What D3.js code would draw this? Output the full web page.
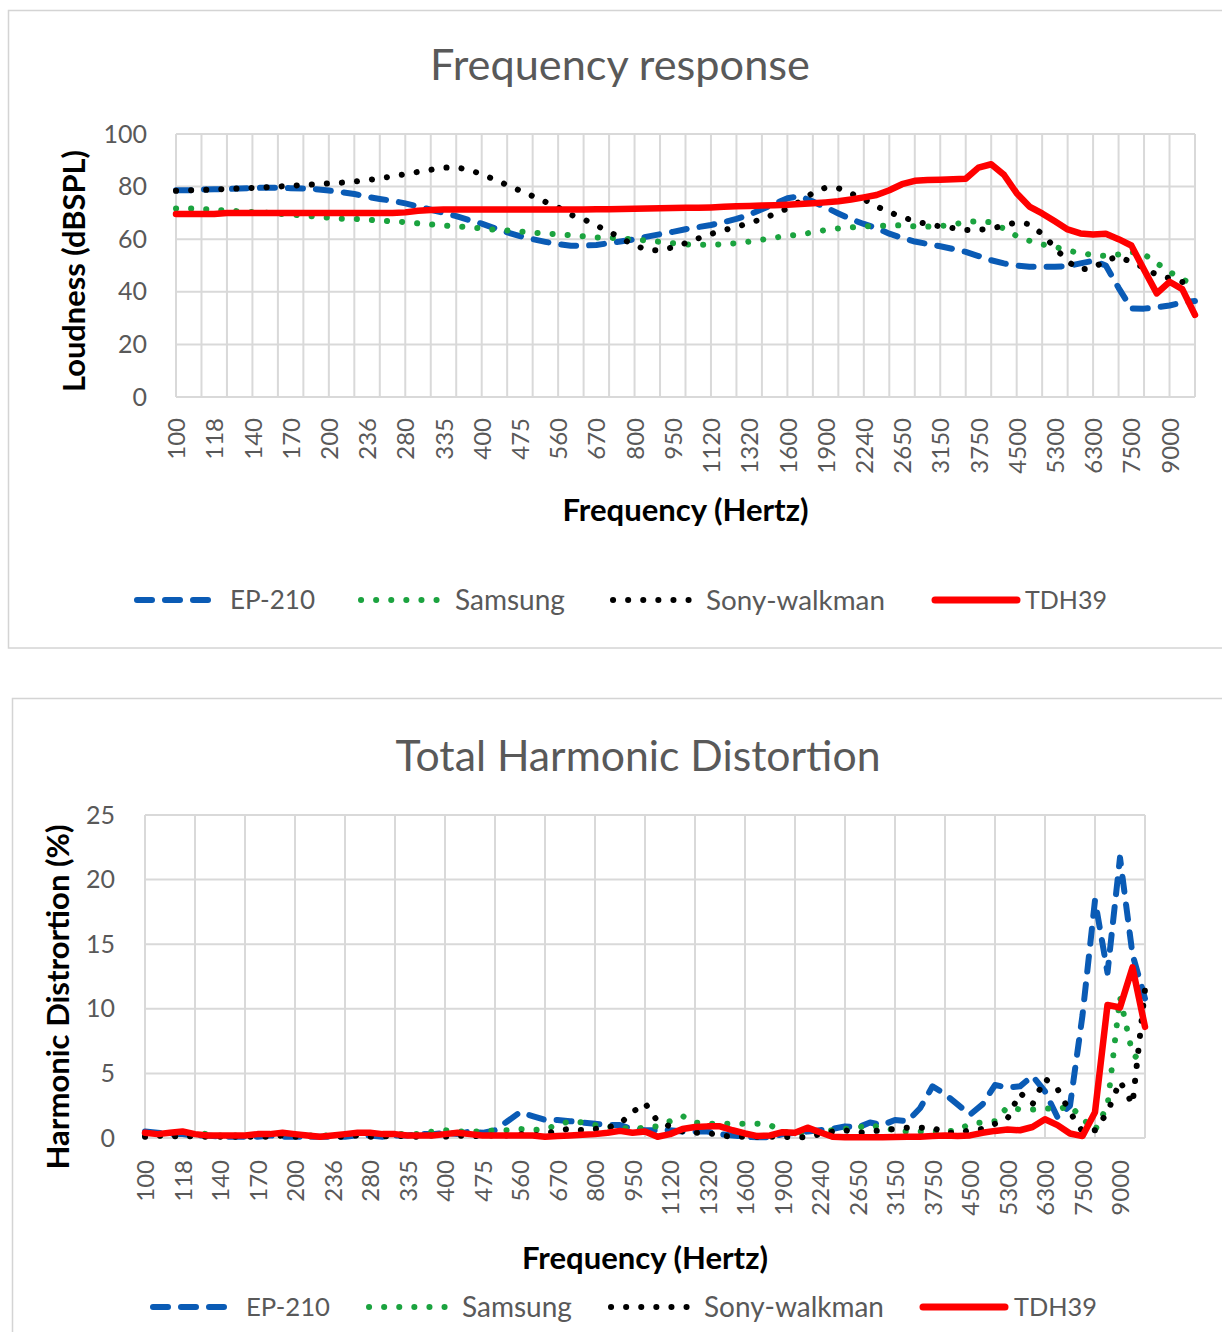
<!DOCTYPE html>
<html><head><meta charset="utf-8">
<script src="https://cdn.jsdelivr.net/npm/d3@7"></script>
<style>body{margin:0;background:#fff}svg{display:block}</style>
</head><body>
<svg id="c" width="1222" height="1332"></svg>
<script>
// ---------------- DATA ----------------
const freqLabels = ["100","106","112","118","125","132","140","150","160","170","180","190","200","212","224","236","250","265","280","300","315","335","355","375","400","425","450","475","500","530","560","600","630","670","710","750","800","850","900","950","1000","1060","1120","1180","1250","1320","1400","1500","1600","1700","1800","1900","2000","2120","2240","2360","2500","2650","2800","3000","3150","3350","3550","3750","4000","4250","4500","4750","5000","5300","5600","6000","6300","6700","7100","7500","8000","8500","9000","9500","10000"];
const xTickLabels = ["100","118","140","170","200","236","280","335","400","475","560","670","800","950","1120","1320","1600","1900","2240","2650","3150","3750","4500","5300","6300","7500","9000"];
const seriesNames = ["EP-210","Samsung","Sony-walkman","TDH39"];

const loudnessTicks = [0,20,40,60,80,100];
const thdTicks = [0,5,10,15,20,25];

// Frequency response (dBSPL)
const frEP210 = [78.6,78.6,78.9,79.0,79.1,79.3,79.4,79.6,79.6,79.4,
79.3,79.0,78.5,77.9,77.2,76.1,75.3,74.6,73.6,72.5,
71.2,70.0,68.8,67.3,65.9,64.2,62.6,61.2,60.0,59.0,
58.1,57.5,57.6,57.8,58.5,59.2,60.0,61.0,61.9,62.8,
63.8,64.6,65.4,66.5,67.7,69.3,71.4,73.5,75.6,76.3,
74.3,72.1,69.8,67.6,65.8,64.2,62.1,60.5,59.1,58.2,
57.3,56.3,55.2,53.6,52.0,50.8,50.0,49.5,49.5,49.5,
49.8,50.8,51.8,50.0,41.5,33.7,33.6,34.1,34.8,35.9,36.5];
const frSamsung = [71.7,71.7,71.5,71.2,70.9,70.6,70.3,70.1,69.7,69.3,
69.0,68.6,68.2,67.8,67.7,67.4,67.1,66.8,66.5,66.0,
65.6,65.2,64.9,64.5,64.1,63.6,63.3,62.9,62.5,62.1,
61.9,61.5,61.1,60.7,60.6,60.2,59.9,59.5,59.0,58.5,
58.0,57.9,57.9,58.1,58.5,59.1,59.8,60.6,61.3,61.8,
62.6,63.5,64.1,64.5,64.9,65.0,65.2,65.3,64.9,64.8,
65.0,65.6,66.5,66.9,66.4,64.0,61.2,59.4,58.0,57.1,
55.7,54.7,54.0,53.6,54.2,55.1,54.3,50.9,47.6,44.8,42.5];
const frSony = [78.4,78.6,78.7,78.9,79.1,79.3,79.5,79.7,80.0,80.3,
80.6,80.9,81.2,81.5,81.9,82.5,83.1,83.9,84.7,85.6,
86.4,87.2,87.3,86.4,84.7,82.7,80.6,78.5,76.4,74.2,
72.1,69.3,67.6,65.2,62.9,60.2,57.7,55.9,55.8,56.9,
58.5,60.3,62.0,63.4,64.7,66.1,67.7,69.6,71.7,74.4,
77.6,79.6,79.4,77.4,75.2,72.5,70.3,68.4,66.9,65.7,
64.9,64.2,63.5,63.6,64.0,65.2,66.4,65.7,62.0,56.8,
51.5,48.5,49.0,52.0,53.4,51.3,49.2,46.4,45.2,43.7,43.0];
const frTDH39 = [69.6,69.6,69.6,69.6,70.0,70.0,70.0,70.0,70.0,70.0,
70.0,70.0,70.0,70.0,70.0,70.0,70.0,70.0,70.2,70.8,
71.1,71.3,71.3,71.3,71.3,71.3,71.3,71.3,71.3,71.3,
71.3,71.3,71.3,71.4,71.4,71.5,71.6,71.7,71.8,71.9,
72.0,72.0,72.1,72.3,72.5,72.6,72.8,72.9,73.1,73.4,
73.7,74.0,74.4,75.1,75.9,76.8,78.6,80.9,82.2,82.5,
82.6,82.8,83.0,87.2,88.5,84.5,77.5,72.4,69.8,66.8,
63.7,62.2,61.8,62.1,60.0,57.6,48.4,39.4,43.8,41.0,31.2];

// Total harmonic distortion (%)
const thdEP210 = [0.5,0.4,0.3,0.3,0.2,0.2,0.1,0.1,0.1,0.1,
0.2,0.1,0.1,0.1,0.1,0.1,0.1,0.2,0.2,0.1,
0.2,0.2,0.3,0.3,0.4,0.3,0.5,0.4,0.6,1.3,
2.0,1.7,1.4,1.4,1.3,1.2,1.1,1.0,1.0,0.7,
0.6,0.6,0.6,0.5,0.5,0.5,0.3,0.2,0.1,0.05,
0.05,0.3,0.4,0.5,0.6,0.7,0.9,0.8,1.2,1.0,
1.4,1.3,2.3,4.0,3.4,2.6,1.8,2.6,4.1,3.9,
4.0,4.8,3.6,1.6,2.5,9.5,18.4,12.8,21.7,14.2,10.8];
const thdSamsung = [0.2,0.2,0.2,0.2,0.4,0.3,0.2,0.2,0.2,0.2,
0.2,0.2,0.2,0.2,0.2,0.2,0.2,0.3,0.3,0.3,
0.3,0.3,0.3,0.5,0.6,0.5,0.5,0.5,0.6,0.6,
0.7,0.6,0.7,1.0,1.3,1.2,1.0,0.9,0.8,0.7,
0.8,0.9,1.3,1.7,1.2,1.1,1.1,1.1,1.1,1.1,
1.0,0.5,0.4,0.4,0.5,0.6,0.7,0.8,1.0,0.8,
0.6,0.5,0.5,0.5,0.5,0.6,1.1,1.2,1.3,2.4,
2.2,2.2,2.3,2.2,2.5,1.5,0.6,2.5,10.9,6.5,5.7];
const thdSony = [0.1,0.2,0.1,0.2,0.1,0.1,0.1,0.1,0.1,0.1,
0.1,0.2,0.1,0.1,0.2,0.1,0.1,0.2,0.1,0.1,
0.2,0.1,0.1,0.2,0.1,0.2,0.1,0.2,0.2,0.2,
0.3,0.2,0.3,0.6,0.7,0.6,0.7,0.8,1.1,2.0,
2.7,1.3,0.9,0.5,0.4,0.4,0.2,0.1,0.1,0.1,
0.1,0.1,0.05,0.05,0.3,0.5,0.6,0.4,0.5,0.6,
0.7,0.8,0.8,0.8,0.4,0.4,0.6,0.7,1.1,1.5,
3.5,2.6,4.6,3.8,2.0,0.5,0.6,2.0,4.4,2.6,11.5];
const thdTDH39 = [0.4,0.3,0.4,0.5,0.3,0.2,0.2,0.2,0.2,0.3,
0.3,0.4,0.3,0.2,0.1,0.2,0.3,0.4,0.4,0.3,
0.3,0.2,0.2,0.2,0.3,0.4,0.3,0.2,0.2,0.2,
0.2,0.2,0.1,0.15,0.2,0.25,0.3,0.4,0.55,0.4,
0.5,0.1,0.3,0.7,0.85,0.9,0.9,0.6,0.35,0.15,
0.2,0.45,0.4,0.8,0.45,0.1,0.05,0.05,0.05,0.05,
0.08,0.1,0.1,0.15,0.2,0.15,0.2,0.4,0.55,0.65,
0.6,0.85,1.45,1.0,0.35,0.15,2.0,10.3,10.1,13.2,8.6];

// ---------------- STYLE ----------------
const FONT = 'Lato, "Open Sans", "DejaVu Sans", sans-serif';
const GRAY = '#595959', GRID = '#D9D9D9';
const styles = [
  {color:'#0A5BB5', width:6, dash:'15 13'},
  {color:'#1BA33F', width:6, dash:'0.1 15'},
  {color:'#000000', width:6, dash:'0.1 15'},
  {color:'#FF0000', width:6.5, dash:null}
];

const svg = d3.select('#c');

function fitText(t, w){
  const l = t.node().getComputedTextLength();
  const fs = +t.attr('font-size');
  t.attr('font-size', (fs*w/l).toFixed(2));
  return t;
}

function drawChart(c){
  const g = svg.append('g');
  g.append('rect').attr('x',c.frame[0]).attr('y',c.frame[1]).attr('width',c.frame[2]).attr('height',c.frame[3])
    .attr('fill','none').attr('stroke','#D4D4D4').attr('stroke-width',1.5);

  const x = d3.scalePoint().domain(freqLabels).range([c.x0,c.x1]);
  const y = d3.scaleLinear().domain([0, d3.max(c.yTicks)]).range([c.y1,c.y0]);

  // gridlines
  g.append('g').selectAll('line').data(c.yTicks).join('line')
    .attr('x1',c.x0).attr('x2',c.x1).attr('y1',d=>y(d)).attr('y2',d=>y(d))
    .attr('stroke',GRID).attr('stroke-width',2);
  g.append('g').selectAll('line').data(freqLabels.filter((d,i)=>i%c.gridEvery===0)).join('line')
    .attr('x1',d=>x(d)).attr('x2',d=>x(d)).attr('y1',c.y0).attr('y2',c.y1)
    .attr('stroke',GRID).attr('stroke-width',2);

  // y axis
  const ya = d3.axisLeft(y).tickValues(c.yTicks).tickSize(0).tickPadding(c.yPad);
  const yg = g.append('g').attr('transform',`translate(${c.x0},0)`).call(ya);
  yg.select('.domain').remove();
  yg.selectAll('text').attr('font-family',FONT).attr('font-size',25).attr('fill',GRAY);

  // x axis
  const xa = d3.axisBottom(x).tickValues(xTickLabels).tickSize(0);
  const xg = g.append('g').attr('transform',`translate(0,${c.y1})`).call(xa);
  xg.select('.domain').remove();
  xg.selectAll('text').attr('font-family',FONT).attr('font-size',24).attr('fill',GRAY)
    .attr('text-anchor','end').attr('transform','rotate(-90)')
    .attr('x',-c.xPad).attr('y',0).attr('dy','0.36em');

  // series
  const line = d3.line().x((d,i)=>x(freqLabels[i])).y(d=>y(d));
  c.series.forEach((vals,k)=>{
    const s = styles[k];
    g.append('path').datum(vals).attr('d',line).attr('fill','none')
      .attr('stroke',s.color).attr('stroke-width',s.width)
      .attr('stroke-dasharray',s.dash).attr('stroke-linecap','round').attr('stroke-linejoin','round');
  });

  // title
  const t = g.append('text').attr('x',c.title.x).attr('y',c.title.y).attr('text-anchor','middle')
    .attr('font-family',FONT).attr('font-size',38).attr('fill',GRAY).text(c.title.text);
  fitText(t,c.title.w);

  // axis titles
  const xt = g.append('text').attr('x',(c.x0+c.x1)/2).attr('y',c.xTitle.y).attr('text-anchor','middle')
    .attr('font-family',FONT).attr('font-weight','bold').attr('font-size',26).attr('fill','#000').text(c.xTitle.text);
  fitText(xt,c.xTitle.w);
  const yt = g.append('text').attr('transform',`translate(${c.yTitle.x},${c.yTitle.cy}) rotate(-90)`)
    .attr('text-anchor','middle').attr('dy','0.36em')
    .attr('font-family',FONT).attr('font-weight','bold').attr('font-size',26).attr('fill','#000').text(c.yTitle.text);
  fitText(yt,c.yTitle.w);

  // legend
  const lg = g.append('g');
  c.legend.forEach((p,k)=>{
    const s = styles[k];
    lg.append('line').attr('x1',p.sx+3).attr('x2',p.sx+p.sl-3).attr('y1',c.legendY).attr('y2',c.legendY)
      .attr('stroke',s.color).attr('stroke-width',k===3?7:s.width)
      .attr('stroke-dasharray',s.dash).attr('stroke-linecap','round');
    const lt = lg.append('text').attr('x',p.tx).attr('y',c.legendY).attr('dy','0.36em')
      .attr('font-family',FONT).attr('font-size',26).attr('fill',GRAY).text(seriesNames[k]);
    fitText(lt,p.tw);
  });
}

drawChart({
  frame:[8.5,10.5,1240,637.5],
  x0:176, x1:1195, y0:134, y1:397,
  yTicks:loudnessTicks, gridEvery:2, yPad:29, xPad:21,
  series:[frEP210,frSamsung,frSony,frTDH39],
  title:{text:'Frequency response', x:620, y:80, w:380},
  xTitle:{text:'Frequency (Hertz)', y:521, w:246},
  yTitle:{text:'Loudness (dBSPL)', x:74, cy:271, w:242},
  legendY:600,
  legend:[{sx:134,sl:80,tx:230,tw:85},{sx:358,sl:82,tx:455,tw:110},{sx:610,sl:82,tx:706,tw:179},{sx:932,sl:88,tx:1025,tw:82}]
});

drawChart({
  frame:[12.5,698.5,1240,700],
  x0:145, x1:1145, y0:815, y1:1138,
  yTicks:thdTicks, gridEvery:4, yPad:30, xPad:22,
  series:[thdEP210,thdSamsung,thdSony,thdTDH39],
  title:{text:'Total Harmonic Distortion', x:638, y:771, w:485},
  xTitle:{text:'Frequency (Hertz)', y:1269, w:246},
  yTitle:{text:'Harmonic Distrortion (%)', x:58, cy:997, w:345},
  legendY:1307,
  legend:[{sx:150,sl:82,tx:246,tw:84},{sx:366,sl:82,tx:462,tw:110},{sx:608,sl:82,tx:704,tw:180},{sx:920,sl:88,tx:1014,tw:83}]
});
</script>
</body></html>
